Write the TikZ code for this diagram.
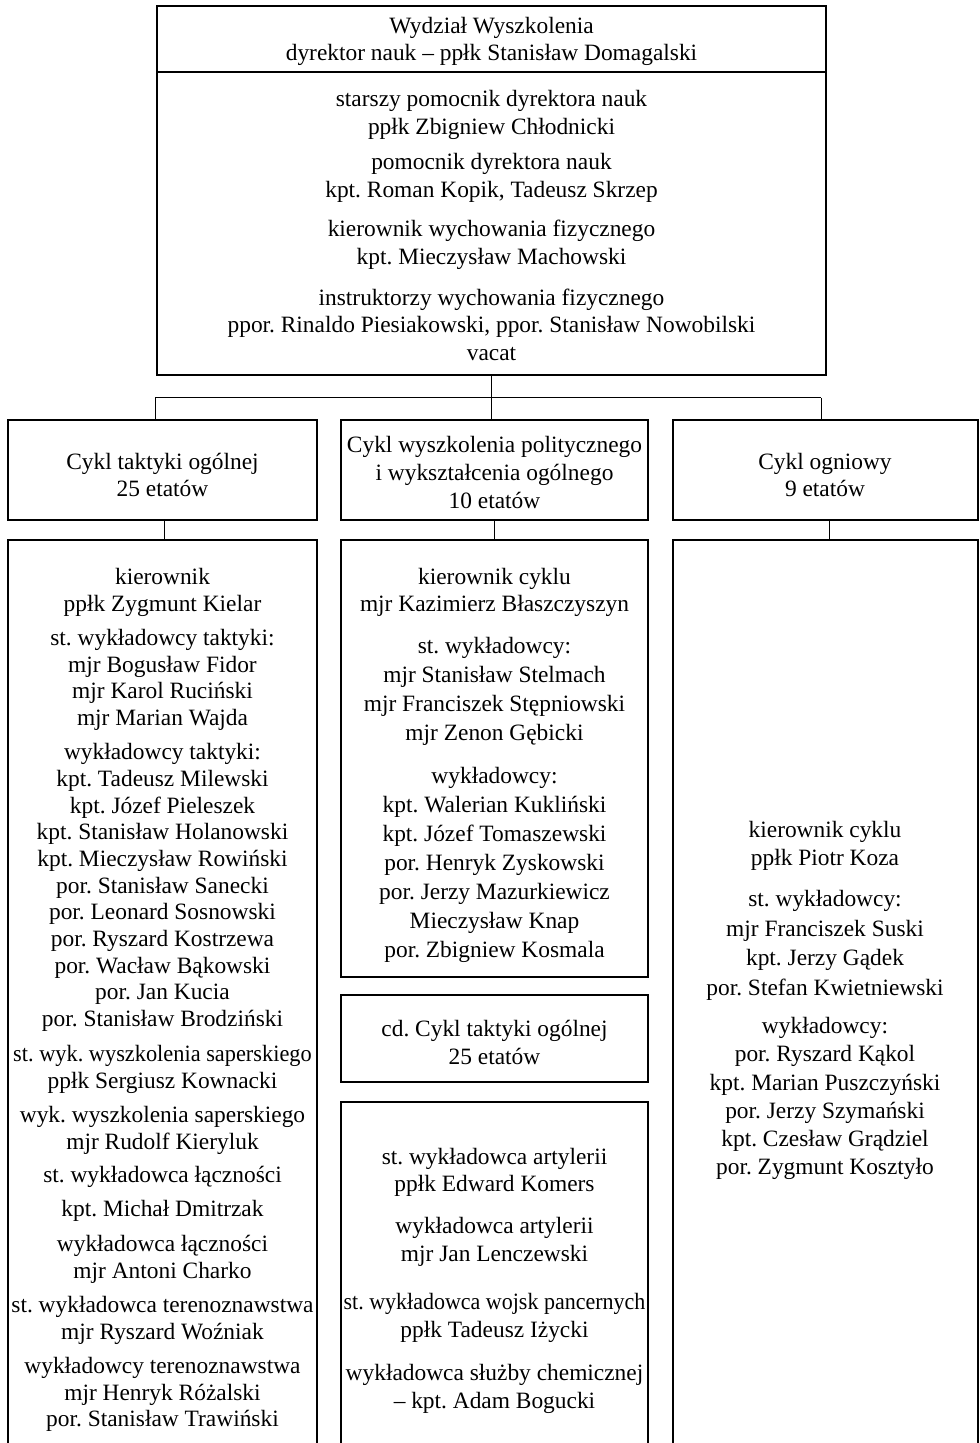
\documentclass[tikz,border=0pt]{standalone}
\usepackage{fontspec}
\usepackage{graphicx}
\setmainfont{Liberation Serif}
\usetikzlibrary{calc}
\frenchspacing
\newcommand\ptbox[5]{\node[box,minimum width={(#4-#2)*0.5pt},minimum height={(#5-#3)*0.5pt}] (#1) at (#2,#3) {};}
\newcommand\squeeze[2]{\scalebox{#1}[1]{#2}}
\begin{document}
\begin{tikzpicture}[x=0.5pt,y=-0.5pt,
  box/.style={draw,line width=1pt,inner sep=0pt,outer sep=0pt,anchor=north west},
  openbox/.style={draw,line width=1pt},
  conn/.style={line width=0.5pt},
  txt/.style={align=center,inner sep=0pt,yshift=-1.5pt,font=\frenchspacing\fontsize{11.7}{#1}\selectfont},
  txt/.default=14pt]
\useasboundingbox (0,0) rectangle (979,1443);
% top box
\ptbox{top}{157}{6}{826}{375}
\draw[line width=1pt] (157,72) -- (826,72);
\node[txt=13.5pt] (thead) at (491.5,38.5) {Wydział Wyszkolenia\\dyrektor nauk – ppłk Stanisław Domagalski};
\node[txt] (t1) at (491.5,112) {starszy pomocnik dyrektora nauk\\ppłk Zbigniew Chłodnicki};
\node[txt] (t2) at (491.5,175) {pomocnik dyrektora nauk\\kpt. Roman Kopik, Tadeusz Skrzep};
\node[txt] (t3) at (491.5,242) {kierownik wychowania fizycznego\\kpt. Mieczysław Machowski};
\node[txt=13.75pt] (t4) at (491.5,321.5) {instruktorzy wychowania fizycznego\\ppor. Rinaldo Piesiakowski, ppor. Stanisław Nowobilski\\vacat};
% level 2
\ptbox{c1}{8}{420}{317}{520}
\ptbox{c2}{341}{420}{648}{520}
\ptbox{c3}{673}{420}{978}{520}
\node[txt=13.5pt] (c1t) at (162.5,471.5) {Cykl taktyki ogólnej\\25 etatów};
\node[txt] (c2t) at (494.5,469) {Cykl wyszkolenia politycznego\\i wykształcenia ogólnego\\10 etatów};
\node[txt=13.5pt] (c3t) at (825,471.5) {Cykl ogniowy\\9 etatów};
% connectors
\coordinate (hub) at (top.south |- 0,398);
\coordinate (h1) at (155,398);
\coordinate (h3) at (821,398);
\draw[conn] (top.south) -- (hub);
\draw[conn] (h1) -- (h3);
\draw[conn] (h1) -- (h1 |- c1.north);
\draw[conn] (hub) -- (hub |- c2.north);
\draw[conn] (h3) -- (h3 |- c3.north);
% lower boxes
\draw[openbox] (8,1450) -- (8,540) -- (317,540) -- (317,1450);
\coordinate (l1) at (164,540);
\ptbox{l2a}{341}{540}{648}{977}
\ptbox{l2b}{341}{995}{648}{1082}
\draw[openbox] (341,1450) -- (341,1102) -- (648,1102) -- (648,1450);
\coordinate (l2c) at (494.5,1102);
\draw[openbox] (673,1450) -- (673,540) -- (978,540) -- (978,1450);
\coordinate (l3) at (829,540);
\draw[conn] (c1.south -| l1) -- (l1);
\draw[conn] (c2.south -| l2a.north) -- (l2a.north);
\draw[conn] (c3.south -| l3) -- (l3);
% left texts
\node[txt=13.5pt] (a1) at (162.5,589.5) {kierownik\\ppłk Zygmunt Kielar};
\node[txt=13.33pt] (a2) at (162.5,677) {st. wykładowcy taktyki:\\mjr Bogusław Fidor\\mjr Karol Ruciński\\mjr Marian Wajda};
\node[txt=13.35pt] (a3) at (162.5,884.5) {wykładowcy taktyki:\\kpt. Tadeusz Milewski\\kpt. Józef Pieleszek\\kpt. Stanisław Holanowski\\kpt. Mieczysław Rowiński\\por. Stanisław Sanecki\\por. Leonard Sosnowski\\por. Ryszard Kostrzewa\\por. Wacław Bąkowski\\por. Jan Kucia\\por. Stanisław Brodziński};
\node[txt=13.5pt] (a4) at (162.5,1066.5) {\squeeze{0.955}{st. wyk. wyszkolenia saperskiego}\\ppłk Sergiusz Kownacki};
\node[txt=13.5pt] (a5) at (162.5,1127.5) {wyk. wyszkolenia saperskiego\\mjr Rudolf Kieryluk};
\node[txt] (a6) at (162.5,1174) {st. wykładowca łączności};
\node[txt] (a7) at (162.5,1208) {kpt. Michał Dmitrzak};
\node[txt=13.5pt] (a8) at (162.5,1256.5) {wykładowca łączności\\mjr Antoni Charko};
\node[txt=13.5pt] (a9) at (162.5,1317.5) {st. wykładowca terenoznawstwa\\mjr Ryszard Woźniak};
\node[txt=13.25pt] (a10) at (162.5,1391.5) {wykładowcy terenoznawstwa\\mjr Henryk Różalski\\por. Stanisław Trawiński};
% middle texts
\node[txt=13.5pt] (b1) at (494.5,589.5) {kierownik cyklu\\mjr Kazimierz Błaszczyszyn};
\node[txt=14.5pt] (b2) at (494.5,688.5) {st. wykładowcy:\\mjr Stanisław Stelmach\\mjr Franciszek Stępniowski\\mjr Zenon Gębicki};
\node[txt=14.5pt] (b3) at (494.5,862) {wykładowcy:\\kpt. Walerian Kukliński\\kpt. Józef Tomaszewski\\por. Henryk Zyskowski\\por. Jerzy Mazurkiewicz\\Mieczysław Knap\\por. Zbigniew Kosmala};
\node[txt] (b4) at (494.5,1039) {cd. Cykl taktyki ogólnej\\25 etatów};
\node[txt=13.5pt] (b5) at (494.5,1169.5) {st. wykładowca artylerii\\ppłk Edward Komers};
\node[txt] (b6) at (494.5,1239) {wykładowca artylerii\\mjr Jan Lenczewski};
\node[txt] (b7) at (494.5,1315) {\squeeze{0.94}{st. wykładowca wojsk pancernych}\\ppłk Tadeusz Iżycki};
\node[txt] (b8) at (494.5,1386) {wykładowca służby chemicznej\\– kpt. Adam Bogucki};
% right texts
\node[txt] (r1) at (825,843) {kierownik cyklu\\ppłk Piotr Koza};
\node[txt=14.8pt] (r2) at (825,942.5) {st. wykładowcy:\\mjr Franciszek Suski\\kpt. Jerzy Gądek\\por. Stefan Kwietniewski};
\node[txt=14.1pt] (r3) at (825,1095.5) {wykładowcy:\\por. Ryszard Kąkol\\kpt. Marian Puszczyński\\por. Jerzy Szymański\\kpt. Czesław Grądziel\\por. Zygmunt Kosztyło};
\end{tikzpicture}
\end{document}
